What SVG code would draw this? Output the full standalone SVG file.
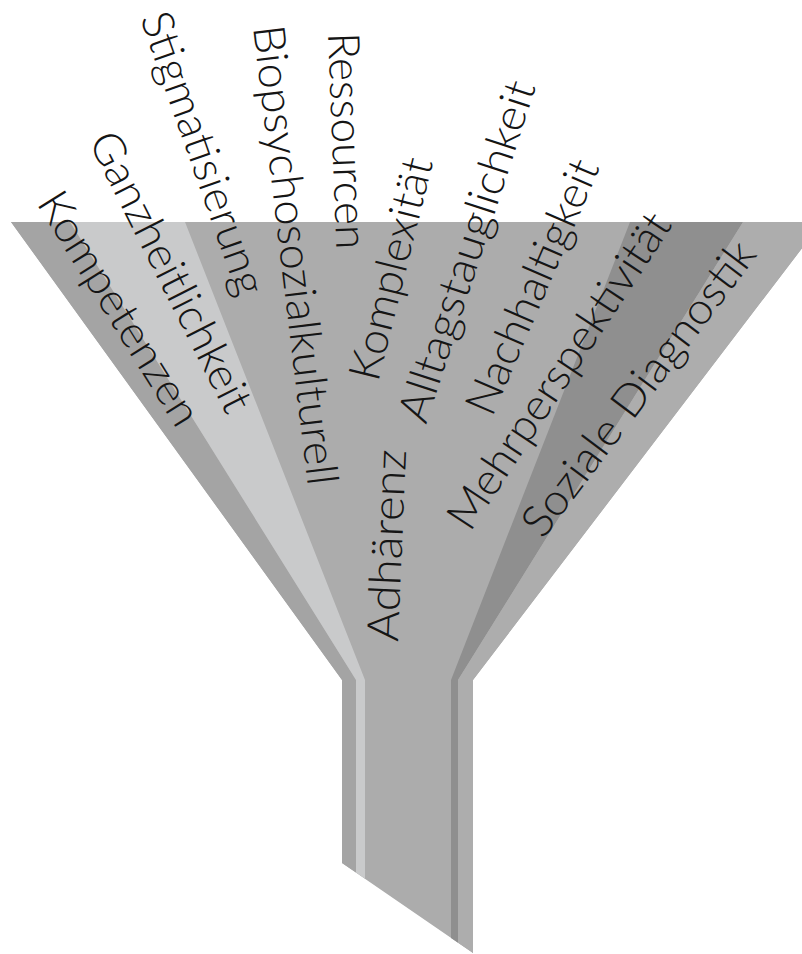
<svg xmlns="http://www.w3.org/2000/svg" width="802" height="954" viewBox="0 0 802 954">
  <style>
    .lbl { font-family: Lato, "Open Sans", "Liberation Sans", sans-serif; font-weight: 300; font-size: 44px; fill: #151515; }
  </style>
  <rect width="802" height="954" fill="#ffffff"/>
  <!-- funnel body: cone narrowing into a neck with a slanted bottom -->
  <g id="funnel">
    <polygon id="band-mid" fill="#acacac" points="11,222 822,222 473,680 473,953 342,863 342,680"/>
    <polygon id="band-left-outer" fill="#a4a4a4" points="11,222 70,222 356,680 356,872.6 342,863 342,680"/>
    <polygon id="band-left-light" fill="#c9cacb" points="70,222 185,222 365,680 365,878.8 356,872.6 356,680"/>
    <polygon id="band-right-dark" fill="#8f8f8f" points="630,222 743,222 458,680 458,942.7 451,937.9 451,680"/>
    <polygon id="band-right-outer" fill="#adadad" points="743,222 822,222 473,680 473,953 458,942.7 458,680"/>
  </g>
  <!-- rotated terms poured into the funnel -->
  <g id="labels">
    <g id="kompetenzen"><text class="lbl" transform="translate(36,203) rotate(58.1)" textLength="267" lengthAdjust="spacingAndGlyphs">Kompetenzen</text></g>
    <g id="ganzheitlichkeit"><text class="lbl" transform="translate(88,141) rotate(63.2)" textLength="308" lengthAdjust="spacingAndGlyphs">Ganzheitlichkeit</text></g>
    <g id="stigmatisierung"><text class="lbl" transform="translate(140,18) rotate(70.7)" textLength="297" lengthAdjust="spacingAndGlyphs">Stigmatisierung</text></g>
    <g id="biopsychosozialkulturell"><text class="lbl" transform="translate(253,27) rotate(83.2)" textLength="463" lengthAdjust="spacingAndGlyphs">Biopsychosozialkulturell</text></g>
    <g id="ressourcen"><text class="lbl" transform="translate(328,33) rotate(87.8)" textLength="217" lengthAdjust="spacingAndGlyphs">Ressourcen</text></g>
    <g id="komplexitaet"><text class="lbl" transform="translate(378,383) rotate(-76)" textLength="228" lengthAdjust="spacingAndGlyphs">Komplexität</text></g>
    <g id="alltagstauglichkeit"><text class="lbl" transform="translate(426,425) rotate(-72)" textLength="356" lengthAdjust="spacingAndGlyphs">Alltagstauglichkeit</text></g>
    <g id="nachhaltigkeit"><text class="lbl" transform="translate(492,418) rotate(-66.7)" textLength="273" lengthAdjust="spacingAndGlyphs">Nachhaltigkeit</text></g>
    <g id="mehrperspektivitaet"><text class="lbl" transform="translate(470,533) rotate(-56.6)" textLength="369" lengthAdjust="spacingAndGlyphs">Mehrperspektivität</text></g>
    <g id="soziale-diagnostik"><text class="lbl" transform="translate(543,540) rotate(-53)" textLength="357" lengthAdjust="spacingAndGlyphs">Soziale Diagnostik</text></g>
    <g id="adhaerenz"><text class="lbl" transform="translate(398,642) rotate(-87.6)" textLength="192" lengthAdjust="spacingAndGlyphs">Adhärenz</text></g>
  </g>
</svg>
